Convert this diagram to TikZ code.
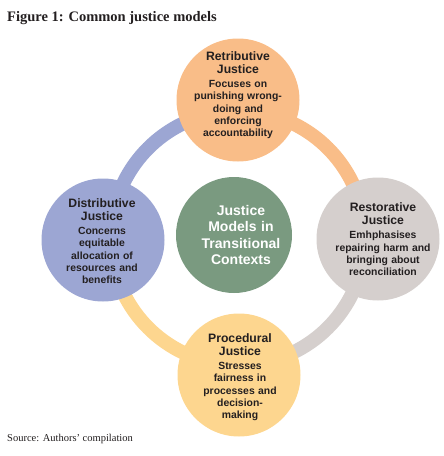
\documentclass[tikz,border=0pt]{standalone}
\usepackage{fontspec}
\usetikzlibrary{calc}
\setmainfont{Liberation Serif}
\newfontfamily\arialf{Liberation Sans}
\definecolor{cOrange}{HTML}{F9BD88}
\definecolor{cGrey}{HTML}{D5CFCD}
\definecolor{cYellow}{HTML}{FDD68F}
\definecolor{cBlue}{HTML}{9CA6D3}
\definecolor{cGreen}{HTML}{7A9A80}
\definecolor{cText}{HTML}{231F20}
\tikzset{
  ringseg/.style={line width=14pt},
  bub/.style={circle, minimum size=123pt, inner sep=0pt},
  btext/.style={text width=116pt, align=center, inner sep=0pt, text=cText},
  ctext/.style={text width=116pt, align=center, inner sep=0pt, text=white,
    font=\arialf\bfseries\fontsize{14}{16.3}\selectfont},
}
\newcommand{\bubttl}[1]{{\arialf\bfseries\fontsize{12.2}{13.3}\selectfont #1\par}\vspace{2pt}}
\newcommand{\bubdsc}[1]{{\arialf\bfseries\fontsize{10.4}{12.2}\selectfont #1\par}}
\begin{document}
\begin{tikzpicture}[x=1pt,y=-1pt]
\useasboundingbox (0,0) rectangle (444,456);
\coordinate (rc) at (238,238);
% ring segments
\draw[ringseg, cOrange] ($(rc)+(-90:127)$) arc[start angle=-90, end angle=0, radius=127];
\draw[ringseg, cGrey]   ($(rc)+(0:127)$) arc[start angle=0, end angle=90, radius=127];
\draw[ringseg, cYellow] ($(rc)+(90:127)$) arc[start angle=90, end angle=180, radius=127];
\draw[ringseg, cBlue]   ($(rc)+(180:127)$) arc[start angle=180, end angle=270, radius=127];
% bubbles
\node[bub, fill=cOrange] (ret) at (238,100) {};
\node[bub, fill=cGrey]   (res) at (378,239) {};
\node[bub, fill=cBlue]   (dis) at (103,240) {};
\node[bub, fill=cYellow] (pro) at (239,375) {};
\node[bub, fill=cGreen, minimum size=116pt] (ctr) at (234,235) {};
% texts
\node[btext] (retT) at (238,95) {\bubttl{Retributive\\Justice}\bubdsc{Focuses on\\punishing wrong-\\doing and\\enforcing\\accountability}};
\node[btext] (resT) at (383,239) {\bubttl{Restorative\\Justice}\bubdsc{Emhphasises\\repairing harm and\\bringing about\\reconciliation}};
\node[btext] (disT) at (102,241) {\bubttl{Distributive\\Justice}\bubdsc{Concerns\\equitable\\allocation of\\resources and\\benefits}};
\node[btext] (proT) at (240,377) {\bubttl{Procedural\\Justice}\bubdsc{Stresses\\fairness in\\processes and\\decision-\\making}};
\node[ctext] (ctrT) at (241,235) {Justice\\Models in\\Transitional\\Contexts};
% caption
\node[anchor=base west, inner sep=0pt, text=cText, font=\bfseries\fontsize{14.5}{16}\selectfont] (title) at (7,21) {Figure 1: Common justice models};
\node[anchor=base west, inner sep=0pt, text=cText, font=\fontsize{10.5}{12}\selectfont] (src) at (7,441) {Source: Authors' compilation};
\end{tikzpicture}
\end{document}
